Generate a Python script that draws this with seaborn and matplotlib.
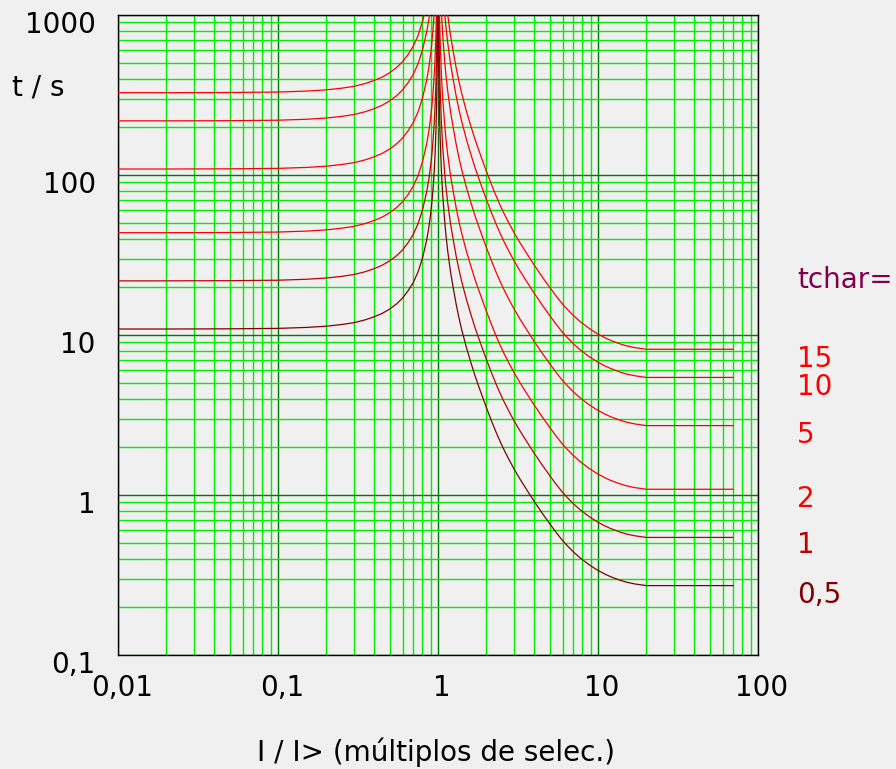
import pandas as pd
import matplotlib
matplotlib.use("Agg")
import matplotlib.pyplot as plt
import matplotlib.transforms as mtransforms
from matplotlib.ticker import FixedLocator, LogLocator, NullFormatter
import seaborn as sns

# style
sns.set_theme(style="white")
plt.rcParams['font.family'] = ['DejaVu Sans']
plt.rcParams['text.color'] = 'black'

# data: multiple of setting I/I> and trip time t (s)
multiples = [0.01, 0.02, 0.05, 0.1, 0.15, 0.2, 0.25, 0.3, 0.35, 0.4,
             0.45, 0.5, 0.55, 0.6, 0.65, 0.7, 0.75, 0.8, 0.85, 0.875,
             0.9, 0.915, 0.93, 0.94, 0.95, 0.96, 0.97, 0.98, 0.99, 0.995,
             1.005, 1.01, 1.02, 1.03, 1.05, 1.07, 1.1, 1.12, 1.15, 1.175,
             1.2, 1.25, 1.3, 1.35, 1.4, 1.5, 1.6, 1.7, 1.8, 1.9,
             2.0, 2.15, 2.3, 2.45, 2.6, 2.8, 3.0, 3.25, 3.5, 3.75,
             4.0, 4.5, 5.0, 5.5, 6.0, 6.5, 7.0, 7.7, 8.5, 9.2,
             10, 11, 12, 13.5, 15, 17, 20, 70]

t_05 = [10.9, 10.9, 10.93, 11.0, 11.15, 11.35, 11.63, 11.95, 12.43, 13.0,
        13.68, 14.55, 15.63, 17.0, 18.88, 21.25, 24.75, 30.25, 39.25, 46.5,
        57.5, 67, 80.5, 93.5, 112, 139, 184, 275, 547, 1095,
        1085, 542.5, 270, 179, 106.5, 75, 52, 42.5, 33.5, 28.5,
        24.5, 19.25, 15.5, 12.9, 11.0, 8.45, 6.8, 5.6, 4.75, 4.085,
        3.55, 2.935, 2.485, 2.15, 1.895, 1.64, 1.445, 1.26, 1.12, 1.005,
        0.91, 0.765, 0.66, 0.58, 0.52, 0.4765, 0.442, 0.406, 0.376, 0.356,
        0.338, 0.321, 0.3085, 0.295, 0.2855, 0.278, 0.2715, 0.2715]
t_1 = [21.8, 21.8, 21.85, 22.0, 22.3, 22.7, 23.25, 23.9, 24.85, 26.0,
       27.35, 29.1, 31.25, 34.0, 37.75, 42.5, 49.5, 60.5, 78.5, 93,
       115, 134, 161, 187, 224, 278, 368, 550, 1095, 2190,
       2170, 1085, 540, 358, 213, 150, 104, 85, 67, 57,
       49, 38.5, 31, 25.8, 22.0, 16.9, 13.6, 11.2, 9.5, 8.17,
       7.1, 5.87, 4.97, 4.30, 3.79, 3.28, 2.89, 2.52, 2.24, 2.01,
       1.82, 1.53, 1.32, 1.16, 1.04, 0.953, 0.884, 0.812, 0.752, 0.712,
       0.676, 0.642, 0.617, 0.59, 0.571, 0.556, 0.543, 0.543]
t_2 = [43.6, 43.6, 43.7, 44.0, 44.6, 45.4, 46.5, 47.8, 49.7, 52.0,
       54.7, 58.2, 62.5, 68.0, 75.5, 85.0, 99.0, 121, 157, 186,
       230, 268, 322, 374, 448, 556, 736, 1100, 2190, 4380,
       4340, 2170, 1080, 716, 426, 300, 208, 170, 134, 114,
       98, 77, 62, 51.6, 44.0, 33.8, 27.2, 22.4, 19.0, 16.34,
       14.2, 11.74, 9.94, 8.6, 7.58, 6.56, 5.78, 5.04, 4.48, 4.02,
       3.64, 3.06, 2.64, 2.32, 2.08, 1.906, 1.768, 1.624, 1.504, 1.424,
       1.352, 1.284, 1.234, 1.18, 1.142, 1.112, 1.086, 1.086]
t_5 = [109, 109, 109.3, 110, 111.5, 113.5, 116.3, 119.5, 124.3, 130,
       136.8, 145.5, 156.3, 170, 188.8, 212.5, 247.5, 302.5, 392.5, 465,
       575, 670, 805, 935, 1120, 1390, 1840, 2750, 5475, 10950,
       10850, 5425, 2700, 1790, 1065, 750, 520, 425, 335, 285,
       245, 192.5, 155, 129, 110, 84.5, 68, 56, 47.5, 40.85,
       35.5, 29.35, 24.85, 21.5, 18.95, 16.4, 14.45, 12.6, 11.2, 10.05,
       9.1, 7.65, 6.6, 5.8, 5.2, 4.765, 4.42, 4.06, 3.76, 3.56,
       3.38, 3.21, 3.085, 2.95, 2.855, 2.78, 2.715, 2.715]
t_10 = [218, 218, 218.5, 220, 223, 227, 232.5, 239, 248.5, 260,
        273.5, 291, 312.5, 340, 377.5, 425, 495, 605, 785, 930,
        1150, 1340, 1610, 1870, 2240, 2780, 3680, 5500, 10950, 21900,
        21700, 10850, 5400, 3580, 2130, 1500, 1040, 850, 670, 570,
        490, 385, 310, 258, 220, 169, 136, 112, 95, 81.7,
        71, 58.7, 49.7, 43, 37.9, 32.8, 28.9, 25.2, 22.4, 20.1,
        18.2, 15.3, 13.2, 11.6, 10.4, 9.53, 8.84, 8.12, 7.52, 7.12,
        6.76, 6.42, 6.17, 5.9, 5.71, 5.56, 5.43, 5.43]
t_15 = [327, 327, 327.8, 330, 334.5, 340.5, 348.8, 358.5, 372.8, 390,
        410.3, 436.5, 468.8, 510, 566.3, 637.5, 742.5, 907.5, 1177.5, 1395,
        1725, 2010, 2415, 2805, 3360, 4170, 5520, 8250, 16425, 32850,
        32550, 16275, 8100, 5370, 3195, 2250, 1560, 1275, 1005, 855,
        735, 577.5, 465, 387, 330, 253.5, 204, 168, 142.5, 122.55,
        106.5, 88.05, 74.55, 64.5, 56.85, 49.2, 43.35, 37.8, 33.6, 30.15,
        27.3, 22.95, 19.8, 17.4, 15.6, 14.3, 13.26, 12.18, 11.28, 10.68,
        10.14, 9.63, 9.255, 8.85, 8.565, 8.34, 8.145, 8.145]

tchar_labels = ["15", "10", "5", "2", "1", "0,5"]
curves = [t_15, t_10, t_5, t_2, t_1, t_05]
curve_colors = ["#ff0000", "#ff0000", "#ff0000", "#ff0000", "#c00000", "#800000"]

x_ticks = [0.01, 0.1, 1, 10, 100]
x_ticklabels = ["0,01", "0,1", "1", "10", "100"]
y_ticks = [0.1, 1, 10, 100, 1000]
y_ticklabels = ["0,1", "1", "10", "100", "1000"]

rows = []
for lab, ts in zip(tchar_labels, curves):
    for m, t in zip(multiples, ts):
        rows.append({"M": m, "t": t, "tchar": lab})
df = pd.DataFrame(rows)

W, H = 896, 769
bg = "#f0f0f0"
fig = plt.figure(figsize=(W / 100, H / 100), dpi=100, facecolor=bg)
ax = fig.add_axes([118 / W, 114 / H, 640 / W, 640 / H])
ax.set_facecolor(bg)
ax.set_xscale("log")
ax.set_yscale("log")

sns.lineplot(data=df, x="M", y="t", hue="tchar", palette=dict(zip(tchar_labels, curve_colors)),
             estimator=None, sort=False, legend=False, linewidth=0.9, ax=ax, zorder=3)

ax.set_xlim(0.01, 100)
ax.set_ylim(0.1, 1000)

# grid
for axis in (ax.xaxis, ax.yaxis):
    axis.set_minor_locator(LogLocator(base=10, subs=range(2, 10), numticks=30))
    axis.set_minor_formatter(NullFormatter())
ax.xaxis.set_major_locator(FixedLocator(x_ticks))
ax.yaxis.set_major_locator(FixedLocator(y_ticks))
ax.set_xticklabels(x_ticklabels)
ax.set_yticklabels(y_ticklabels)
ax.set_axisbelow(True)
ax.grid(which="minor", color="#00ee00", linewidth=1.0)
ax.grid(which="major", color="#007a00", linewidth=1.0)

ax.tick_params(which="both", length=0)
ax.tick_params(axis="x", labelsize=20, pad=13.5, labelcolor="black")
ax.tick_params(axis="y", labelsize=20, pad=16, labelcolor="black")
for lbl in ax.get_xticklabels():
    lbl.set_transform(lbl.get_transform() + mtransforms.ScaledTranslation(0.04, 0, fig.dpi_scale_trans))
for lbl in ax.get_yticklabels():
    lbl.set_transform(lbl.get_transform() + mtransforms.ScaledTranslation(0, -0.07, fig.dpi_scale_trans))

for s in ax.spines.values():
    s.set_color("black")
    s.set_linewidth(1.0)

ax.set_xlabel("")
ax.set_ylabel("")

# axis titles
fig.text(12 / W, 1 - 95 / H, "t / s", fontsize=20, color="black", ha="left", va="baseline")
fig.text(436 / W, 1 - 761 / H, "I / I> (múltiplos de selec.)", fontsize=20, color="black",
         ha="center", va="baseline")

# curve labels on the right
fig.text(797 / W, 1 - 288 / H, "tchar=", fontsize=20, color="#800050", ha="left", va="baseline")
label_baselines = [367, 395, 443, 507, 553, 603]
for lab, col, yb in zip(tchar_labels, curve_colors, label_baselines):
    fig.text(797 / W, 1 - yb / H, lab, fontsize=20, color=col, ha="left", va="baseline")

fig.savefig("out.png", dpi=100, facecolor=bg)
